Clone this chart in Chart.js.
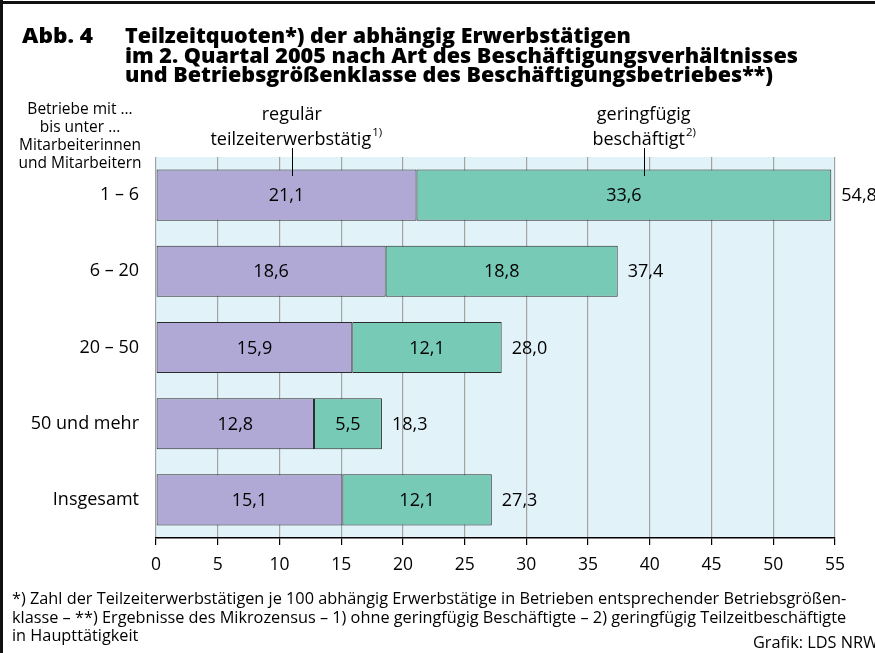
<!DOCTYPE html>
<html>
<head>
<meta charset="utf-8">
<script src="https://cdn.jsdelivr.net/npm/chart.js@4.4.1/dist/chart.umd.min.js"></script>
<style>
  html, body { margin: 0; padding: 0; background: #fff; }
  #wrap { position: relative; width: 875px; height: 653px; }
</style>
</head>
<body>
<div id="wrap"><canvas id="chart"></canvas></div>
<script>
const categories = ["1 – 6", "6 – 20", "20 – 50", "50 und mehr", "Insgesamt"];
const regular = [21.1, 18.6, 15.9, 12.8, 15.1];
const marginal = [33.6, 18.8, 12.1, 5.5, 12.1];
const totals = [54.8, 37.4, 28.0, 18.3, 27.3];
const xTicks = [0, 5, 10, 15, 20, 25, 30, 35, 40, 45, 50, 55];

const FONT = "'Open Sans', 'Noto Sans', sans-serif";
const fmt = (v) => v.toFixed(1).replace(".", ",");

// draw text squeezed/stretched to a given width (title uses a wide face)
function fitText(ctx, text, x, y, width) {
  const w = ctx.measureText(text).width;
  ctx.save();
  ctx.translate(x, y);
  ctx.scale(width / w, 1);
  ctx.fillText(text, 0, 0);
  ctx.restore();
}

const decor = {
  id: "decor",
  beforeDraw(chart) {
    const { ctx, chartArea: a } = chart;
    ctx.save();
    ctx.fillStyle = "#e1f2f9";
    ctx.fillRect(a.left, a.top, a.right - a.left, a.bottom - a.top);
    ctx.restore();
  },
  afterDatasetsDraw(chart) {
    const { ctx } = chart;
    const x = chart.scales.x;
    ctx.save();
    ctx.fillStyle = "#000";
    ctx.textBaseline = "middle";

    // values inside segments
    ctx.font = "18px " + FONT;
    ctx.textAlign = "center";
    chart.data.datasets.forEach((ds, di) => {
      chart.getDatasetMeta(di).data.forEach((bar, i) => {
        const mid = (bar.x + bar.base) / 2;
        ctx.fillText(fmt(ds.data[i]), mid, bar.y + 1);
      });
    });
    // totals
    ctx.textAlign = "left";
    chart.getDatasetMeta(1).data.forEach((bar, i) => {
      ctx.fillText(fmt(totals[i]), bar.x + 10, bar.y + 1);
    });

    // leader lines
    ctx.strokeStyle = "#000";
    ctx.lineWidth = 1;
    [11, 39.5].forEach((v) => {
      const px = Math.round(x.getPixelForValue(v)) + 0.5;
      ctx.beginPath();
      ctx.moveTo(px, 148);
      ctx.lineTo(px, 176);
      ctx.stroke();
    });
    ctx.restore();
  },
  afterDraw(chart) {
    const { ctx } = chart;
    const x = chart.scales.x;
    ctx.save();
    ctx.fillStyle = "#000";
    ctx.textBaseline = "middle";

    // frame
    ctx.fillStyle = "#111";
    ctx.fillRect(0, 0, 3, 653);
    ctx.fillRect(0, 1, 875, 3);
    ctx.fillStyle = "#000";

    // title
    ctx.font = "800 21px " + FONT;
    ctx.textAlign = "left";
    fitText(ctx, "Abb. 4", 22, 37, 71);
    fitText(ctx, "Teilzeitquoten*) der abhängig Erwerbstätigen", 125, 37, 506);
    fitText(ctx, "im 2. Quartal 2005 nach Art des Beschäftigungsverhältnisses", 125, 57, 673);
    fitText(ctx, "und Betriebsgrößenklasse des Beschäftigungsbetriebes**)", 125, 76, 648);

    // y header
    ctx.font = "15.5px " + FONT;
    ctx.textAlign = "center";
    ["Betriebe mit …", "bis unter …", "Mitarbeiterinnen", "und Mitarbeitern"].forEach((t, i) => {
      ctx.fillText(t, 80, 110 + i * 17.7);
    });

    // series labels
    ctx.font = "18px " + FONT;
    const lx1 = x.getPixelForValue(11);
    const lx2 = x.getPixelForValue(39.5);
    ctx.fillText("regulär", lx1, 115);
    ctx.fillText("geringfügig", lx2, 115);
    const sup = (text, cx, y, mark) => {
      ctx.font = "18px " + FONT;
      const w1 = ctx.measureText(text).width;
      ctx.font = "11.5px " + FONT;
      const w2 = ctx.measureText(mark).width;
      const start = cx - (w1 + w2) / 2;
      ctx.textAlign = "left";
      ctx.font = "18px " + FONT;
      ctx.fillText(text, start, y);
      ctx.font = "11.5px " + FONT;
      ctx.fillText(mark, start + w1 + 1, y - 7);
      ctx.textAlign = "center";
    };
    sup("teilzeiterwerbstätig", lx1 + 4, 140, "1)");
    sup("beschäftigt", lx2, 140, "2)");

    // footnotes
    ctx.font = "16.3px " + FONT;
    ctx.textAlign = "left";
    ctx.fillText("*) Zahl der Teilzeiterwerbstätigen je 100 abhängig Erwerbstätige in Betrieben entsprechender Betriebsgrößen-", 12, 599);
    ctx.fillText("klasse – **) Ergebnisse des Mikrozensus – 1) ohne geringfügig Beschäftigte – 2) geringfügig Teilzeitbeschäftigte", 12, 618);
    ctx.fillText("in Haupttätigkeit", 12, 636);
    ctx.fillText("Grafik: LDS NRW", 753, 643);
    ctx.restore();
  }
};

new Chart(document.getElementById("chart"), {
  type: "bar",
  data: {
    labels: categories,
    datasets: [
      {
        label: "regulär teilzeiterwerbstätig",
        data: regular,
        backgroundColor: "#b0a9d5",
        borderColor: "#2b2b2b",
        borderWidth: 1,
        borderSkipped: false,
        barPercentage: 0.67,
        categoryPercentage: 1,
      },
      {
        label: "geringfügig beschäftigt",
        data: marginal,
        backgroundColor: "#76cab6",
        borderColor: "#2b2b2b",
        borderWidth: 1,
        borderSkipped: false,
        barPercentage: 0.67,
        categoryPercentage: 1,
      },
    ],
  },
  options: {
    indexAxis: "y",
    responsive: true,
    maintainAspectRatio: false,
    animation: false,
    layout: { padding: { top: 157, right: 40, bottom: 0, left: 0 } },
    plugins: {
      legend: { display: false },
      tooltip: { enabled: false },
    },
    scales: {
      x: {
        stacked: true,
        min: 0,
        max: 55,
        afterBuildTicks(scale) {
          scale.ticks = xTicks.map((v) => ({ value: v }));
        },
        afterFit(scale) {
          scale.height = 115;
        },
        grid: {
          color: "#a3a3a3",
          lineWidth: 1.2,
          drawTicks: true,
          tickLength: 7,
          tickColor: "#000",
        },
        border: { display: true, color: "#000", width: 1.5 },
        ticks: {
          color: "#000",
          padding: 10,
          font: { family: FONT, size: 17.5 },
        },
      },
      y: {
        stacked: true,
        afterFit(scale) {
          scale.width = 156;
        },
        grid: { display: false },
        border: { display: false },
        ticks: {
          color: "#000",
          padding: 9,
          font: { family: FONT, size: 18 },
        },
      },
    },
  },
  plugins: [decor],
});
</script>
</body>
</html>
